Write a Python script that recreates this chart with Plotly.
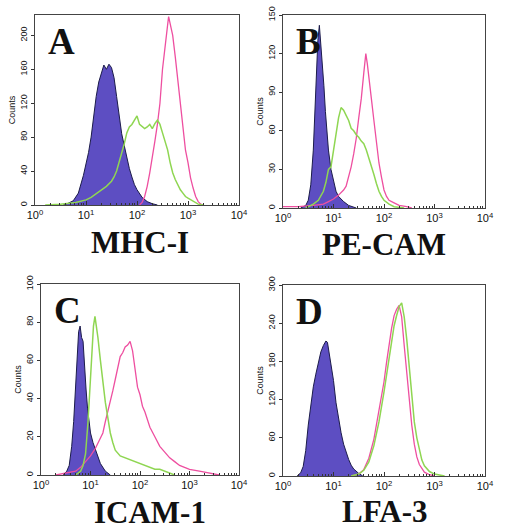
import plotly.graph_objects as go

# ---------------- data (x = log10 fluorescence, y = counts) ----------------
# Panel A  MHC-I
a_purple_x = [0.55,0.65,0.75,0.85,0.95,1.0,1.05,1.1,1.15,1.2,1.25,1.3,1.35,1.4,1.45,1.5,1.55,1.6,1.65,1.7,1.75,1.8,1.85,1.9,1.95,2.0,2.1,2.2,2.3,2.4]
a_purple_y = [0,2,5,14,35,48,62,80,105,128,145,155,165,160,166,162,150,128,108,84,70,55,43,33,24,18,9,4,1.5,0]
a_green_x = [0.2,0.5,0.8,1.0,1.1,1.2,1.3,1.4,1.5,1.55,1.6,1.65,1.7,1.75,1.8,1.85,1.9,1.95,2.0,2.05,2.1,2.15,2.2,2.25,2.3,2.35,2.4,2.45,2.5,2.55,2.6,2.65,2.7,2.75,2.8,2.85,2.9,2.95,3.0,3.1,3.2,3.3]
a_green_y = [0,1,3,6,9,13,17,22,28,33,40,50,60,72,85,92,95,100,105,95,92,90,92,95,90,96,100,95,85,75,65,50,38,30,24,18,14,10,8,4,1,0]
a_pink_x = [2.05,2.1,2.15,2.2,2.25,2.3,2.35,2.4,2.45,2.5,2.55,2.6,2.62,2.65,2.7,2.75,2.8,2.85,2.9,2.95,3.0,3.05,3.1,3.15,3.2,3.25,3.3]
a_pink_y = [0,3,10,22,38,55,75,95,120,160,190,212,222,215,200,175,148,115,88,65,50,32,20,10,4,1,0]

# Panel B  PE-CAM
b_purple_x = [0.35,0.45,0.5,0.55,0.6,0.63,0.66,0.69,0.72,0.75,0.78,0.81,0.84,0.87,0.9,0.95,1.0,1.05,1.1,1.2,1.3,1.45]
b_purple_y = [0,2,6,18,45,75,110,130,142,128,115,95,75,58,45,30,20,13,9,5,2,0]
b_green_x = [0.45,0.6,0.7,0.8,0.85,0.9,0.95,1.0,1.05,1.1,1.15,1.2,1.25,1.3,1.35,1.4,1.45,1.5,1.55,1.6,1.65,1.7,1.75,1.8,1.85,1.9,1.95,2.0,2.1,2.2,2.4]
b_green_y = [0,3,6,13,20,30,32,45,58,70,78,76,72,68,62,60,57,55,52,50,45,39,32,26,19,13,9,6,3,1,0]
b_pink_x = [0.0,0.3,0.6,0.8,0.9,1.0,1.1,1.2,1.25,1.3,1.35,1.4,1.45,1.5,1.55,1.6,1.64,1.67,1.7,1.75,1.8,1.85,1.9,1.95,2.0,2.05,2.1,2.2,2.3,2.45,2.55]
b_pink_y = [1,1,2,3,5,7,10,14,17,24,32,42,54,70,85,105,120,112,100,85,68,50,35,24,14,9,6,4,2,1,0]

# Panel C  ICAM-1
c_purple_x = [0.45,0.52,0.57,0.62,0.66,0.7,0.73,0.76,0.79,0.82,0.85,0.88,0.91,0.94,0.97,1.0,1.05,1.1,1.15,1.2,1.3,1.4]
c_purple_y = [0,2,5,15,28,45,62,75,78,72,70,55,45,35,28,22,17,13,9,6,2,0]
c_green_x = [0.7,0.8,0.85,0.9,0.95,1.0,1.03,1.06,1.09,1.12,1.15,1.2,1.25,1.3,1.35,1.4,1.45,1.5,1.6,1.7,1.8,1.9,2.0,2.1,2.2,2.3,2.4,2.5,2.6,2.7]
c_green_y = [0,2,5,11,28,52,68,78,83,78,72,60,48,38,30,22,17,13,10,9,8,7,6,5,4,3,3,2,1,0]
c_pink_x = [0.3,0.5,0.7,0.8,0.9,1.0,1.1,1.2,1.25,1.3,1.35,1.4,1.45,1.5,1.55,1.6,1.65,1.7,1.75,1.8,1.85,1.9,1.95,2.0,2.05,2.1,2.15,2.2,2.3,2.4,2.5,2.6,2.7,2.8,2.9,3.0,3.2,3.4,3.6]
c_pink_y = [0,1,2,4,7,10,14,19,22,28,33,38,44,50,56,62,64,67,68,70,65,55,46,42,36,33,29,25,20,15,12,9,7,5,4,3,2,1,0]

# Panel D  LFA-3
d_purple_x = [0.28,0.35,0.4,0.45,0.5,0.55,0.6,0.65,0.7,0.75,0.8,0.85,0.88,0.92,0.95,1.0,1.05,1.1,1.15,1.2,1.25,1.3,1.35,1.4,1.5,1.58]
d_purple_y = [0,5,15,40,80,115,140,160,178,195,205,212,210,190,175,150,115,90,68,50,36,26,17,11,4,0]
d_green_x = [1.35,1.5,1.6,1.7,1.8,1.9,2.0,2.05,2.1,2.15,2.2,2.25,2.3,2.35,2.4,2.45,2.5,2.55,2.6,2.65,2.7,2.75,2.8,2.9,3.0,3.2]
d_green_y = [0,3,9,22,48,85,132,158,185,212,236,252,266,272,250,215,170,125,85,60,40,25,16,7,3,0]
d_pink_x = [1.35,1.5,1.6,1.7,1.8,1.9,2.0,2.05,2.1,2.15,2.2,2.25,2.3,2.35,2.4,2.45,2.5,2.55,2.6,2.65,2.7,2.75,2.8,2.9,3.0]
d_pink_y = [0,3,10,28,58,100,148,178,208,232,252,262,268,250,205,165,118,80,50,30,18,11,6,2,0]

panel_letters = ["A", "B", "C", "D"]
panel_names = ["MHC-I", "PE-CAM", "ICAM-1", "LFA-3"]
y_maxes = [224, 150, 100, 300]
y_tickvals = [[0,40,80,120,160,200],[0,30,60,90,120,150],[0,20,40,60,80,100],[0,60,120,180,240,300]]
x_tickvals = [1, 10, 100, 1000, 10000]
x_ticktext = ["10<sup>0</sup>", "10<sup>1</sup>", "10<sup>2</sup>", "10<sup>3</sup>", "10<sup>4</sup>"]

panels = [
    (a_purple_x, a_purple_y, a_green_x, a_green_y, a_pink_x, a_pink_y),
    (b_purple_x, b_purple_y, b_green_x, b_green_y, b_pink_x, b_pink_y),
    (c_purple_x, c_purple_y, c_green_x, c_green_y, c_pink_x, c_pink_y),
    (d_purple_x, d_purple_y, d_green_x, d_green_y, d_pink_x, d_pink_y),
]

# ---------------- layout geometry (pixels) ----------------
W, H = 505, 532
boxes = [(35, 239, 15, 205), (283, 485, 15, 208), (41, 239, 284, 475), (283, 485, 285, 476)]
name_centers = [(140, 242), (384, 244), (150, 512), (385, 511)]

PURPLE_FILL = "#5d4ec2"
PURPLE_LINE = "#1c1c4a"
GREEN = "#8fd652"
PINK = "#ee4fa0"

fig = go.Figure()
minor_vals = [k * 10 ** e for e in range(4) for k in range(2, 10)]

for i, (px, py, gx, gy, kx, ky) in enumerate(panels):
    n = i + 1
    xa = "x" if n == 1 else f"x{n}"
    ya = "y" if n == 1 else f"y{n}"
    fig.add_trace(go.Scatter(x=[10 ** v for v in px], y=py, mode="lines", fill="tozeroy",
                             fillcolor=PURPLE_FILL, line=dict(color=PURPLE_LINE, width=1),
                             xaxis=xa, yaxis=ya, showlegend=False))
    fig.add_trace(go.Scatter(x=[10 ** v for v in kx], y=ky, mode="lines",
                             line=dict(color=PINK, width=1.3), xaxis=xa, yaxis=ya, showlegend=False))
    fig.add_trace(go.Scatter(x=[10 ** v for v in gx], y=gy, mode="lines",
                             line=dict(color=GREEN, width=1.5), xaxis=xa, yaxis=ya, showlegend=False))

    l, r, t, b = boxes[i]
    xd = [l / W, r / W]
    yd = [1 - b / H, 1 - t / H]
    xkey = "xaxis" if n == 1 else f"xaxis{n}"
    ykey = "yaxis" if n == 1 else f"yaxis{n}"
    fig.update_layout(**{
        xkey: dict(domain=xd, type="log", range=[0, 4], anchor=ya, automargin=False,
                   tickmode="array", tickvals=x_tickvals, ticktext=x_ticktext,
                   ticks="inside", ticklen=4, tickcolor="#333",
                   minor=dict(tickmode="array", tickvals=minor_vals, ticks="inside", ticklen=2, tickcolor="#333", showgrid=False),
                   showgrid=False, zeroline=False, showline=True, mirror=True,
                   linecolor="#444", linewidth=1,
                   tickfont=dict(family="Liberation Sans, Arial", size=11, color="#111")),
        ykey: dict(domain=yd, range=[0, y_maxes[i]], anchor=xa, automargin=False,
                   tickmode="array", tickvals=y_tickvals[i], ticks="outside", ticklen=3,
                   tickcolor="#333", tickangle=-90,
                   showgrid=False, zeroline=False, showline=True, mirror=True,
                   linecolor="#444", linewidth=1,
                   title=dict(text="Counts", font=dict(family="Liberation Sans, Arial", size=9, color="#111"), standoff=2),
                   tickfont=dict(family="Liberation Sans, Arial", size=9, color="#111")),
    })

    fig.add_annotation(text="<b>%s</b>" % panel_letters[i], xref="paper", yref="paper",
                       x=(l + 11) / W, y=1 - (t + 4) / H, xanchor="left", yanchor="top",
                       showarrow=False, font=dict(family="Liberation Serif, Times New Roman", size=37, color="#111"))
    cx, cy = name_centers[i]
    fig.add_annotation(text="<b>%s</b>" % panel_names[i], xref="paper", yref="paper",
                       x=cx / W, y=1 - cy / H, xanchor="center", yanchor="middle",
                       showarrow=False, font=dict(family="Liberation Serif, Times New Roman", size=31, color="#111"))

fig.update_layout(width=W, height=H, margin=dict(l=0, r=0, t=0, b=0),
                  paper_bgcolor="white", plot_bgcolor="white", hovermode=False)

fig.write_html("out.html", config={"displayModeBar": False, "staticPlot": True},
               post_script="document.body.style.margin='0';document.body.style.overflow='hidden';")
